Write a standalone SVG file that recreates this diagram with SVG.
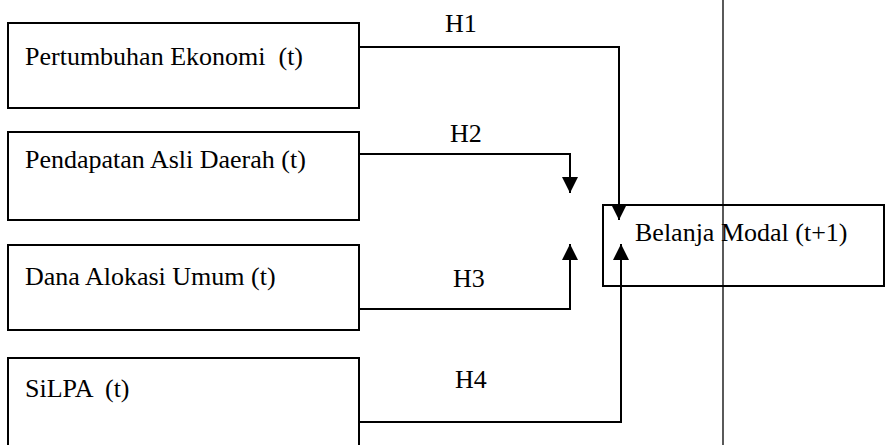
<svg xmlns="http://www.w3.org/2000/svg" width="885" height="445" viewBox="0 0 885 445">
<style>
.box{fill:none;stroke:#000;stroke-width:2}
.t{font-family:'Liberation Serif','DejaVu Serif',serif;font-size:26px;fill:#000;white-space:pre}
.c{fill:none;stroke:#000;stroke-width:2}
</style>
<defs>
<marker id="ah" viewBox="0 0 16 16" refX="16" refY="8" markerWidth="16" markerHeight="16" markerUnits="userSpaceOnUse" orient="auto">
<path d="M0,0 L16,8 L0,16 Z" fill="#000"/>
</marker>
</defs>
<rect width="885" height="445" fill="#fff"/>
<line x1="723" y1="0" x2="723" y2="445" stroke="#000" stroke-width="1.3"/>
<g id="n1"><rect class="box" x="8" y="23" width="351" height="85"/><text class="t" font-family="Liberation Serif, serif" x="25" y="65" xml:space="preserve">Pertumbuhan Ekonomi  (t)</text></g>
<g id="n2"><rect class="box" x="8" y="132" width="351" height="88"/><text class="t" font-family="Liberation Serif, serif" x="25" y="168">Pendapatan Asli Daerah (t)</text></g>
<g id="n3"><rect class="box" x="8" y="245" width="351" height="85"/><text class="t" font-family="Liberation Serif, serif" x="25" y="285">Dana Alokasi Umum (t)</text></g>
<g id="n4"><rect class="box" x="8" y="358" width="351" height="100"/><text class="t" font-family="Liberation Serif, serif" x="25" y="397" xml:space="preserve">SiLPA  (t)</text></g>
<g id="n5"><rect class="box" x="603" y="205" width="281" height="81"/><text class="t" font-family="Liberation Serif, serif" x="635" y="241">Belanja Modal (t+1)</text></g>
<g id="connectors">
<polyline class="c" points="359,47 619,47 619,220" marker-end="url(#ah)"/>
<polyline class="c" points="359,154 570,154 570,193" marker-end="url(#ah)"/>
<polyline class="c" points="359,309 570,309 570,244" marker-end="url(#ah)"/>
<polyline class="c" points="359,422 621,422 621,244" marker-end="url(#ah)"/>
<text class="t" font-family="Liberation Serif, serif" x="445" y="32">H1</text>
<text class="t" font-family="Liberation Serif, serif" x="450" y="142">H2</text>
<text class="t" font-family="Liberation Serif, serif" x="453" y="287">H3</text>
<text class="t" font-family="Liberation Serif, serif" x="455" y="388">H4</text>
</g>
</svg>
